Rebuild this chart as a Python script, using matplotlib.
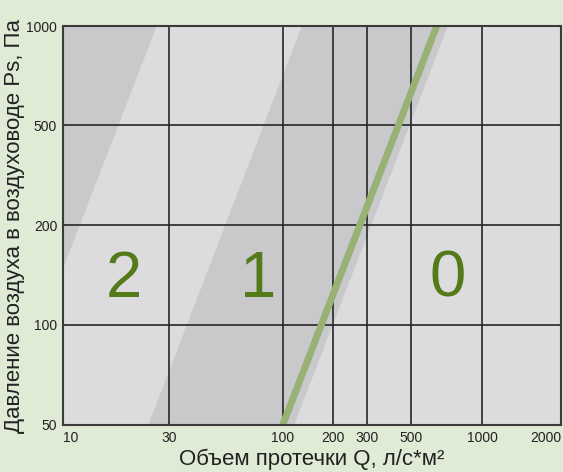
import numpy as np
import matplotlib.pyplot as plt

# axis values (the source chart spaces them unevenly)
x_ticks = [10, 30, 100, 200, 300, 500, 1000, 2000]
y_ticks = [50, 100, 200, 500, 1000]

# leakage class line, Q at 50 Pa and 1000 Pa
line_q = [100, 642]
line_p = [50, 1000]

# shaded zones (Q, Ps)
zone_a_q = [10, 26.5, 10]
zone_a_p = [1000, 1000, 147]
zone_b_q = [24.3, 130, 716, 117]
zone_b_p = [50, 1000, 1000, 50]

classes = ['2', '1', '0']
class_q = [18.9, 77, 713]
class_p = [137, 137, 137]

# layout: where each tick sits along the axis (0..1)
x_pos = np.array([62.7, 168.7, 282.7, 333.3, 367.3, 411, 482.3, 561])
x_pos = (x_pos - x_pos[0]) / (x_pos[-1] - x_pos[0])
y_pos = np.array([425, 325, 225, 125, 26])
y_pos = (y_pos[0] - y_pos) / (y_pos[0] - y_pos[-1])


def make_scale(ticks, pos):
    lt = np.log10(ticks)

    def fwd(v):
        v = np.clip(np.asarray(v, dtype=float), 1e-9, None)
        return np.interp(np.log10(v), lt, pos)

    def inv(p):
        return 10 ** np.interp(p, pos, lt)

    return fwd, inv


bg = '#e0ebd5'
light = '#dcdcde'
dark = '#c9c9cb'
green = '#557a1a'

fig = plt.figure(figsize=(5.63, 4.72), dpi=100, facecolor=bg)
ax = fig.add_axes([62.7 / 563, 1 - 425 / 472, (561 - 62.7) / 563, (425 - 26) / 472])
ax.set_facecolor(light)
ax.set_xscale('function', functions=make_scale(x_ticks, x_pos))
ax.set_yscale('function', functions=make_scale(y_ticks, y_pos))
ax.set_xlim(x_ticks[0], x_ticks[-1])
ax.set_ylim(y_ticks[0], y_ticks[-1])

ax.fill(zone_a_q, zone_a_p, color=dark, lw=0, zorder=1)
ax.fill(zone_b_q, zone_b_p, color=dark, lw=0, zorder=1)

ax.set_xticks(x_ticks)
ax.set_yticks(y_ticks)
ax.minorticks_off()
ax.grid(True, color='#262626', lw=1.2, zorder=2)
ax.set_axisbelow(False)

ax.plot(line_q, line_p, color='#98b175', lw=5, solid_capstyle='butt', zorder=3)

for t, q, p in zip(classes, class_q, class_p):
    ax.text(q, p, t, color=green, fontsize=47, ha='center', va='center',
            family='Liberation Sans', zorder=4)

tick_font = ['Liberation Sans Narrow', 'Liberation Sans']
ax.set_xticklabels([str(t) for t in x_ticks], family=tick_font, fontsize=10, color='#222')
ax.set_yticklabels([str(t) for t in y_ticks], family=tick_font, fontsize=10, color='#222')
xl = ax.get_xticklabels()
xl[0].set_ha('left')
xl[-1].set_ha('right')
ax.tick_params(length=0, pad=4)

for s in ax.spines.values():
    s.set_color('#3a3a3a')
    s.set_linewidth(1.5)
    s.set_zorder(5)

ax.set_xlabel('Объем протечки Q, л/с*м²', family='Liberation Sans', fontsize=16,
              color='#222', labelpad=3)
ax.set_ylabel('Давление воздуха в воздуховоде Ps, Па', family='Liberation Sans',
              fontsize=16, color='#222', labelpad=1)

fig.savefig('out.png', dpi=100, facecolor=bg)
